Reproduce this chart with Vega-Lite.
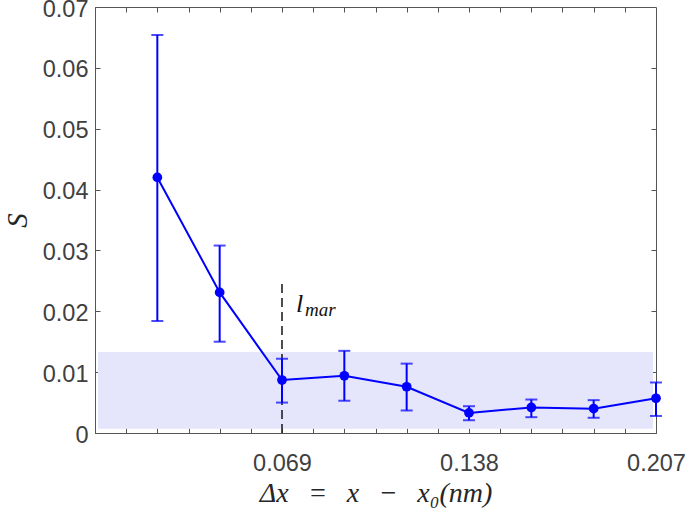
{
  "$schema": "https://vega.github.io/schema/vega-lite/v6.json",
  "width": 561,
  "height": 426,
  "autosize": {"type": "none"},
  "padding": {"left": 95, "top": 7, "right": 29, "bottom": 78},
  "background": "white",
  "config": {
    "view": {"stroke": "#555555", "strokeWidth": 1},
    "axis": {
      "grid": false,
      "domainColor": "#555555",
      "tickColor": "#555555",
      "tickSize": -5,
      "labelFont": "Liberation Sans",
      "labelFontSize": 23.5,
      "labelColor": "#404040",
      "titleColor": "#262626",
      "titleFontWeight": "normal"
    }
  },
  "datasets": {
    "pts": [
      {"dx": 0.023, "s": 0.0420, "lo": 0.0184, "hi": 0.0654},
      {"dx": 0.046, "s": 0.0231, "lo": 0.0150, "hi": 0.0308},
      {"dx": 0.069, "s": 0.0087, "lo": 0.0050, "hi": 0.0122},
      {"dx": 0.092, "s": 0.0094, "lo": 0.0053, "hi": 0.0135},
      {"dx": 0.115, "s": 0.0076, "lo": 0.0037, "hi": 0.0114},
      {"dx": 0.138, "s": 0.0033, "lo": 0.0021, "hi": 0.0044},
      {"dx": 0.161, "s": 0.0042, "lo": 0.0026, "hi": 0.0055},
      {"dx": 0.184, "s": 0.0040, "lo": 0.0025, "hi": 0.0054},
      {"dx": 0.207, "s": 0.0057, "lo": 0.0028, "hi": 0.0083}
    ],
    "band": [{"x1": 0.0011, "x2": 0.2059, "y1": 0.0007, "y2": 0.0133}],
    "mar": [{"x": 0.069, "y1": 0, "y2": 0.0248}],
    "lab": [{"x": 0.0742, "y": 0.0199, "t1": "l", "t2": "mar"}]
  },
  "layer": [
    {
      "data": {"name": "band"},
      "mark": {"type": "rect", "color": "#e5e5fb"},
      "encoding": {
        "x": {
          "field": "x1", "type": "quantitative",
          "scale": {"domain": [0, 0.207], "nice": false, "zero": false},
          "axis": {
            "orient": "bottom",
            "values": [0.0115, 0.023, 0.0345, 0.046, 0.0575, 0.069, 0.0805, 0.092, 0.1035, 0.115, 0.1265, 0.138, 0.1495, 0.161, 0.1725, 0.184, 0.1955, 0.207],
            "labelExpr": "indexof(['0.069','0.138','0.207'], format(datum.value, '.3f')) >= 0 ? format(datum.value, '.3f') : ''",
            "labelPadding": 23,
            "labelFlush": false,
            "title": "Δx\u2002\u2009=\u2002\u2009x\u2002\u2009−\u2002\u2009x₀(nm)",
            "titleFont": "Liberation Serif",
            "titleFontStyle": "italic",
            "titleFontSize": 28,
            "titlePadding": 5
          }
        },
        "x2": {"field": "x2"},
        "y": {
          "field": "y1", "type": "quantitative",
          "scale": {"domain": [0, 0.07], "nice": false, "zero": false},
          "axis": {
            "orient": "left",
            "values": [0, 0.01, 0.02, 0.03, 0.04, 0.05, 0.06, 0.07],
            "labelExpr": "datum.value == 0 ? '0' : format(datum.value, '.2f')",
            "labelPadding": 12,
            "labelOffset": 2,
            "labelFlush": false,
            "title": "S",
            "titleFont": "Liberation Serif",
            "titleFontStyle": "italic",
            "titleFontSize": 29,
            "titlePadding": 10
          }
        },
        "y2": {"field": "y2"}
      }
    },
    {
      "data": {"name": "band"},
      "mark": {"type": "point", "opacity": 0},
      "encoding": {
        "x": {
          "field": "x1", "type": "quantitative",
          "axis": {
            "orient": "top",
            "values": [0.0115, 0.023, 0.0345, 0.046, 0.0575, 0.069, 0.0805, 0.092, 0.1035, 0.115, 0.1265, 0.138, 0.1495, 0.161, 0.1725, 0.184, 0.1955],
            "labels": false, "title": null, "domain": false
          }
        },
        "y": {
          "field": "y1", "type": "quantitative",
          "axis": {
            "orient": "right",
            "values": [0.01, 0.02, 0.03, 0.04, 0.05, 0.06],
            "labels": false, "title": null, "domain": false
          }
        }
      }
    },
    {
      "data": {"name": "mar"},
      "mark": {"type": "rule", "color": "#222222", "strokeWidth": 1.6, "strokeDash": [9, 5]},
      "encoding": {
        "x": {"field": "x", "type": "quantitative", "axis": null},
        "y": {"field": "y1", "type": "quantitative", "axis": null},
        "y2": {"field": "y2"}
      }
    },
    {
      "data": {"name": "pts"},
      "mark": {"type": "rule", "color": "#0000ff", "strokeWidth": 2},
      "encoding": {
        "x": {"field": "dx", "type": "quantitative", "axis": null},
        "y": {"field": "lo", "type": "quantitative", "axis": null},
        "y2": {"field": "hi"}
      }
    },
    {
      "data": {"name": "pts"},
      "mark": {"type": "tick", "color": "#0000ff", "orient": "horizontal", "size": 12, "thickness": 2},
      "encoding": {
        "x": {"field": "dx", "type": "quantitative", "axis": null},
        "y": {"field": "lo", "type": "quantitative", "axis": null}
      }
    },
    {
      "data": {"name": "pts"},
      "mark": {"type": "tick", "color": "#0000ff", "orient": "horizontal", "size": 12, "thickness": 2},
      "encoding": {
        "x": {"field": "dx", "type": "quantitative", "axis": null},
        "y": {"field": "hi", "type": "quantitative", "axis": null}
      }
    },
    {
      "data": {"name": "pts"},
      "mark": {"type": "line", "color": "#0000ff", "strokeWidth": 2},
      "encoding": {
        "x": {"field": "dx", "type": "quantitative", "axis": null},
        "y": {"field": "s", "type": "quantitative", "axis": null}
      }
    },
    {
      "data": {"name": "pts"},
      "mark": {"type": "circle", "color": "#0000ff", "opacity": 1, "size": 95},
      "encoding": {
        "x": {"field": "dx", "type": "quantitative", "axis": null},
        "y": {"field": "s", "type": "quantitative", "axis": null}
      }
    },
    {
      "data": {"name": "lab"},
      "mark": {"type": "text", "font": "Liberation Serif", "fontStyle": "italic", "fontSize": 26, "color": "#111111", "align": "left", "baseline": "alphabetic"},
      "encoding": {
        "x": {"field": "x", "type": "quantitative", "axis": null},
        "y": {"field": "y", "type": "quantitative", "axis": null},
        "text": {"field": "t1"}
      }
    },
    {
      "data": {"name": "lab"},
      "mark": {"type": "text", "font": "Liberation Serif", "fontStyle": "italic", "fontSize": 19, "color": "#111111", "align": "left", "baseline": "alphabetic", "dx": 9, "dy": 4},
      "encoding": {
        "x": {"field": "x", "type": "quantitative", "axis": null},
        "y": {"field": "y", "type": "quantitative", "axis": null},
        "text": {"field": "t2"}
      }
    }
  ],
  "resolve": {"axis": {"x": "independent", "y": "independent"}}
}
